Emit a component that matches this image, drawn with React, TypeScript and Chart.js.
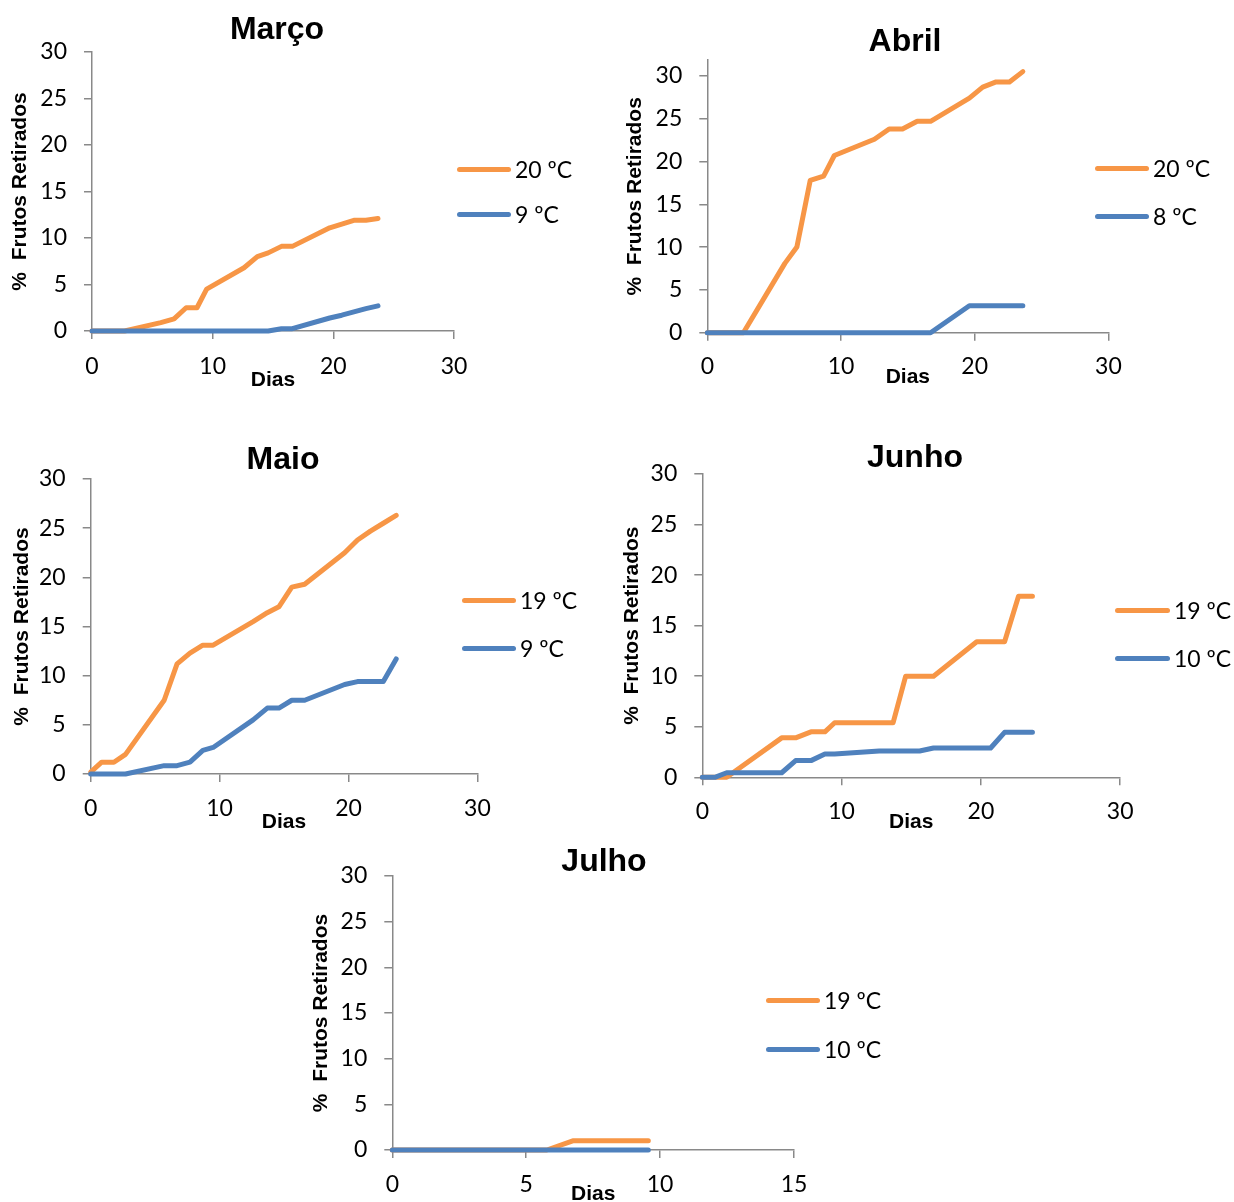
import React, { useEffect, useRef } from 'react';
import { Chart, registerables } from 'chart.js';

Chart.register(...registerables);

// ---------- DATA ----------
const marDays = [0, 2.7, 5.7, 6.8, 7.8, 8.7, 9.5, 12.6, 13.7, 14.6, 15.7, 16.6, 19.7, 20.7, 21.7, 22.7, 23.7];
const mar20 = [0, 0, 0.9, 1.3, 2.5, 2.5, 4.5, 6.8, 8.0, 8.4, 9.1, 9.1, 11.1, 11.5, 11.9, 11.9, 12.1];
const mar9 = [0, 0, 0, 0, 0, 0, 0, 0, 0, 0, 0.25, 0.25, 1.4, 1.7, 2.05, 2.4, 2.7];
const marLabels = ['20 ºC', '9 ºC'];

const abrDays = [0, 2.7, 5.8, 6.7, 7.7, 8.7, 9.5, 12.5, 13.6, 14.6, 15.7, 16.7, 19.6, 20.6, 21.6, 22.6, 23.6];
const abr20 = [0, 0, 8.1, 10.0, 17.8, 18.3, 20.7, 22.6, 23.8, 23.8, 24.7, 24.7, 27.4, 28.7, 29.3, 29.3, 30.5];
const abr8 = [0, 0, 0, 0, 0, 0, 0, 0, 0, 0, 0, 0, 3.15, 3.15, 3.15, 3.15, 3.15];
const abrLabels = ['20 ºC', '8 ºC'];

const maiDays = [0, 0.85, 1.8, 2.7, 5.7, 6.7, 7.7, 8.7, 9.5, 12.6, 13.7, 14.6, 15.6, 16.6, 19.7, 20.7, 21.7, 22.7, 23.7];
const mai19 = [0.2, 1.2, 1.2, 2.0, 7.5, 11.2, 12.3, 13.1, 13.1, 15.5, 16.4, 17.0, 19.0, 19.3, 22.5, 23.8, 24.7, 25.5, 26.3];
const mai9 = [0, 0, 0, 0, 0.85, 0.85, 1.2, 2.4, 2.7, 5.5, 6.7, 6.7, 7.5, 7.5, 9.1, 9.4, 9.4, 9.4, 11.7];
const maiLabels = ['19 ºC', '9 ºC'];

const junDays = [0, 0.9, 1.75, 5.7, 6.7, 7.8, 8.8, 9.5, 12.7, 13.7, 14.6, 15.6, 16.6, 19.7, 20.7, 21.7, 22.7, 23.7];
const jun19 = [0, 0, 0, 3.9, 3.9, 4.5, 4.5, 5.4, 5.4, 5.4, 10.0, 10.0, 10.0, 13.4, 13.4, 13.4, 17.9, 17.9];
const jun10 = [0, 0, 0.45, 0.45, 1.65, 1.65, 2.3, 2.3, 2.6, 2.6, 2.6, 2.6, 2.9, 2.9, 2.9, 4.45, 4.45, 4.45];
const junLabels = ['19 ºC', '10 ºC'];

const julDays = [0, 5.77, 6.74, 9.56];
const jul19 = [0, 0, 1.0, 1.0];
const jul10 = [0, 0, 0, 0];
const julLabels = ['19 ºC', '10 ºC'];

const monthTitles = ['Março', 'Abril', 'Maio', 'Junho', 'Julho'];
const xAxisTitle = 'Dias';
const yAxisTitle = '%  Frutos Retirados';
const yTickValues = [0, 5, 10, 15, 20, 25, 30];

// ---------- STYLE / LAYOUT ----------
const ORANGE = '#F79646';
const BLUE = '#4F81BD';
const AXIS = '#898989';
const TICK_FONT = 'Lato, "Open Sans", sans-serif';
const BOLD_FONT = '"Liberation Sans", Arial, sans-serif';
const TICK_SIZE = 23;
const AXIS_TITLE_SIZE = 21;
const TITLE_SIZE = 32;

type Panel = {
  title: string;
  days: number[];
  warm: number[];
  cold: number[];
  labels: string[];
  xMax: number;
  xStep: number;
  yMax: number;
  cx: number; cy: number; ch: number;
  titleCX: number;
  l: number; r: number; t: number; b: number;
  titleCY: number;
  yTitleCX: number;
  xTitleCY: number;
  xTickCY: number;
  legX: number; legY1: number; legY2: number; legW: number;
};

const panels: Panel[] = [
  {
    title: monthTitles[0], days: marDays, warm: mar20, cold: mar9, labels: marLabels,
    xMax: 30, xStep: 10, yMax: 30,
    cx: 0, cy: 0, ch: 400, titleCX: 277,
    l: 92, r: 454, t: 52, b: 331,
    titleCY: 30, yTitleCX: 20, xTitleCY: 380.5, xTickCY: 366.5,
    legX: 457, legY1: 169, legY2: 214, legW: 54,
  },
  {
    title: monthTitles[1], days: abrDays, warm: abr20, cold: abr8, labels: abrLabels,
    xMax: 30, xStep: 10, yMax: 31.86,
    cx: 615, cy: 0, ch: 400, titleCX: 905,
    l: 707.3, r: 1108.4, t: 60, b: 332.7,
    titleCY: 42, yTitleCX: 635, xTitleCY: 377, xTickCY: 367,
    legX: 1095, legY1: 168, legY2: 216, legW: 54,
  },
  {
    title: monthTitles[2], days: maiDays, warm: mai19, cold: mai9, labels: maiLabels,
    xMax: 30, xStep: 10, yMax: 30,
    cx: 0, cy: 420, ch: 420, titleCX: 283,
    l: 90.7, r: 477.4, t: 479, b: 774,
    titleCY: 460, yTitleCX: 22, xTitleCY: 822, xTickCY: 809,
    legX: 462, legY1: 600, legY2: 648, legW: 54,
  },
  {
    title: monthTitles[3], days: junDays, warm: jun19, cold: jun10, labels: junLabels,
    xMax: 30, xStep: 10, yMax: 30,
    cx: 615, cy: 420, ch: 420, titleCX: 915,
    l: 702.3, r: 1120.2, t: 474, b: 777.3,
    titleCY: 458, yTitleCX: 632, xTitleCY: 822, xTickCY: 812,
    legX: 1115, legY1: 610, legY2: 658, legW: 55,
  },
  {
    title: monthTitles[4], days: julDays, warm: jul19, cold: jul10, labels: julLabels,
    xMax: 15, xStep: 5, yMax: 30,
    cx: 300, cy: 835, ch: 367, titleCX: 604,
    l: 392.3, r: 794, t: 876, b: 1150,
    titleCY: 862, yTitleCX: 321, xTitleCY: 1194, xTickCY: 1184.5,
    legX: 766, legY1: 1000, legY2: 1049, legW: 54,
  },
];

const toPoints = (xs: number[], ys: number[]) => xs.map((x, i) => ({ x, y: ys[i] }));

function ChartPanel({ p }: { p: Panel }) {
  const ref = useRef<HTMLCanvasElement>(null);
  // canvas width chosen so that the (full width) title is centred on titleCX
  const cw = Math.round(2 * (p.titleCX - p.cx));

  useEffect(() => {
    const canvas = ref.current;
    if (!canvas) return;
    const grid = {
      display: true,
      drawOnChartArea: false,
      drawTicks: true,
      tickLength: 8,
      color: AXIS,
      lineWidth: 1.5,
    };
    const border = { display: true, color: AXIS, width: 1.5 };
    const lineBase = {
      borderWidth: 5,
      pointRadius: 0,
      pointHoverRadius: 0,
      tension: 0,
      fill: false,
      clip: false as any,
      borderCapStyle: 'round' as const,
      borderJoinStyle: 'round' as const,
    };
    const rightSpace = p.cx + cw - p.r;
    const tickFont = { family: TICK_FONT, size: TICK_SIZE, lineHeight: 1 };
    const axisTitleFont = { family: BOLD_FONT, size: AXIS_TITLE_SIZE, weight: 'bold', lineHeight: 1 };
    const chart = new Chart(canvas, {
      type: 'line',
      data: {
        datasets: [
          { ...lineBase, label: p.labels[0], data: toPoints(p.days, p.warm), borderColor: ORANGE, backgroundColor: ORANGE, order: 1 },
          { ...lineBase, label: p.labels[1], data: toPoints(p.days, p.cold), borderColor: BLUE, backgroundColor: BLUE, order: 0 },
        ],
      },
      options: {
        responsive: false,
        animation: false,
        events: [],
        layout: {
          padding: { left: 0, right: 0, top: p.titleCY - p.cy - TITLE_SIZE / 2, bottom: 0 },
        },
        plugins: {
          legend: { display: false },
          tooltip: { enabled: false },
          title: {
            display: true,
            text: p.title,
            color: '#000',
            fullSize: true,
            font: { family: BOLD_FONT, size: TITLE_SIZE, weight: 'bold', lineHeight: 1 },
            padding: { top: 0, bottom: p.t - p.titleCY - TITLE_SIZE / 2 },
          },
        },
        scales: {
          x: {
            type: 'linear',
            min: 0,
            max: p.xMax,
            ticks: {
              stepSize: p.xStep,
              color: '#000',
              autoSkip: false,
              maxRotation: 0,
              font: tickFont,
              padding: p.xTickCY - p.b - 8 - TICK_SIZE / 2,
            },
            grid,
            border,
            title: {
              display: true,
              text: xAxisTitle,
              color: '#000',
              font: axisTitleFont,
              padding: { top: 0, bottom: p.cy + p.ch - p.xTitleCY - AXIS_TITLE_SIZE / 2 },
            },
            afterFit: (s: any) => { s.height = p.cy + p.ch - p.b; },
          },
          y: {
            type: 'linear',
            min: 0,
            max: p.yMax,
            ticks: {
              stepSize: 5,
              color: '#000',
              font: tickFont,
              padding: 17,
            },
            afterBuildTicks: (s: any) => {
              s.ticks = yTickValues.filter((v) => v <= p.yMax).map((v) => ({ value: v }));
            },
            grid,
            border,
            title: {
              display: true,
              text: yAxisTitle,
              color: '#000',
              font: axisTitleFont,
              padding: { top: p.yTitleCX - p.cx - AXIS_TITLE_SIZE / 2, bottom: 0 },
            },
            afterFit: (s: any) => { s.width = p.l - p.cx; },
          },
          // empty spacer on the right, so the title can be centred like the original
          spacer: {
            type: 'linear',
            position: 'right',
            display: true,
            grid: { display: false, drawTicks: false },
            border: { display: false },
            ticks: { display: false },
            afterFit: (s: any) => { s.width = rightSpace; },
          },
        },
      } as any,
    });
    return () => chart.destroy();
  }, [p, cw]);

  return (
    <canvas
      ref={ref}
      width={cw}
      height={p.ch}
      style={{ position: 'absolute', left: p.cx, top: p.cy, width: cw, height: p.ch, display: 'block' }}
    />
  );
}

function Legend({ p }: { p: Panel }) {
  const colors = [ORANGE, BLUE];
  const ys = [p.legY1, p.legY2];
  return (
    <>
      {p.labels.map((lab, i) => (
        <React.Fragment key={lab + i}>
          <div
            style={{
              position: 'absolute',
              left: p.legX,
              top: ys[i] - 2.5,
              width: p.legW,
              height: 5,
              borderRadius: 2.5,
              background: colors[i],
            }}
          />
          <div
            style={{
              position: 'absolute',
              left: p.legX + p.legW + 4,
              top: ys[i] - 14,
              height: 28,
              lineHeight: '28px',
              fontFamily: TICK_FONT,
              fontSize: TICK_SIZE,
              color: '#000',
              whiteSpace: 'nowrap',
            }}
          >
            {lab}
          </div>
        </React.Fragment>
      ))}
    </>
  );
}

export default function App() {
  return (
    <div style={{ position: 'absolute', left: 0, top: 0, width: 1234, height: 1202, background: '#fff', overflow: 'hidden' }}>
      {panels.map((p) => (
        <React.Fragment key={p.title}>
          <ChartPanel p={p} />
          <Legend p={p} />
        </React.Fragment>
      ))}
    </div>
  );
}
